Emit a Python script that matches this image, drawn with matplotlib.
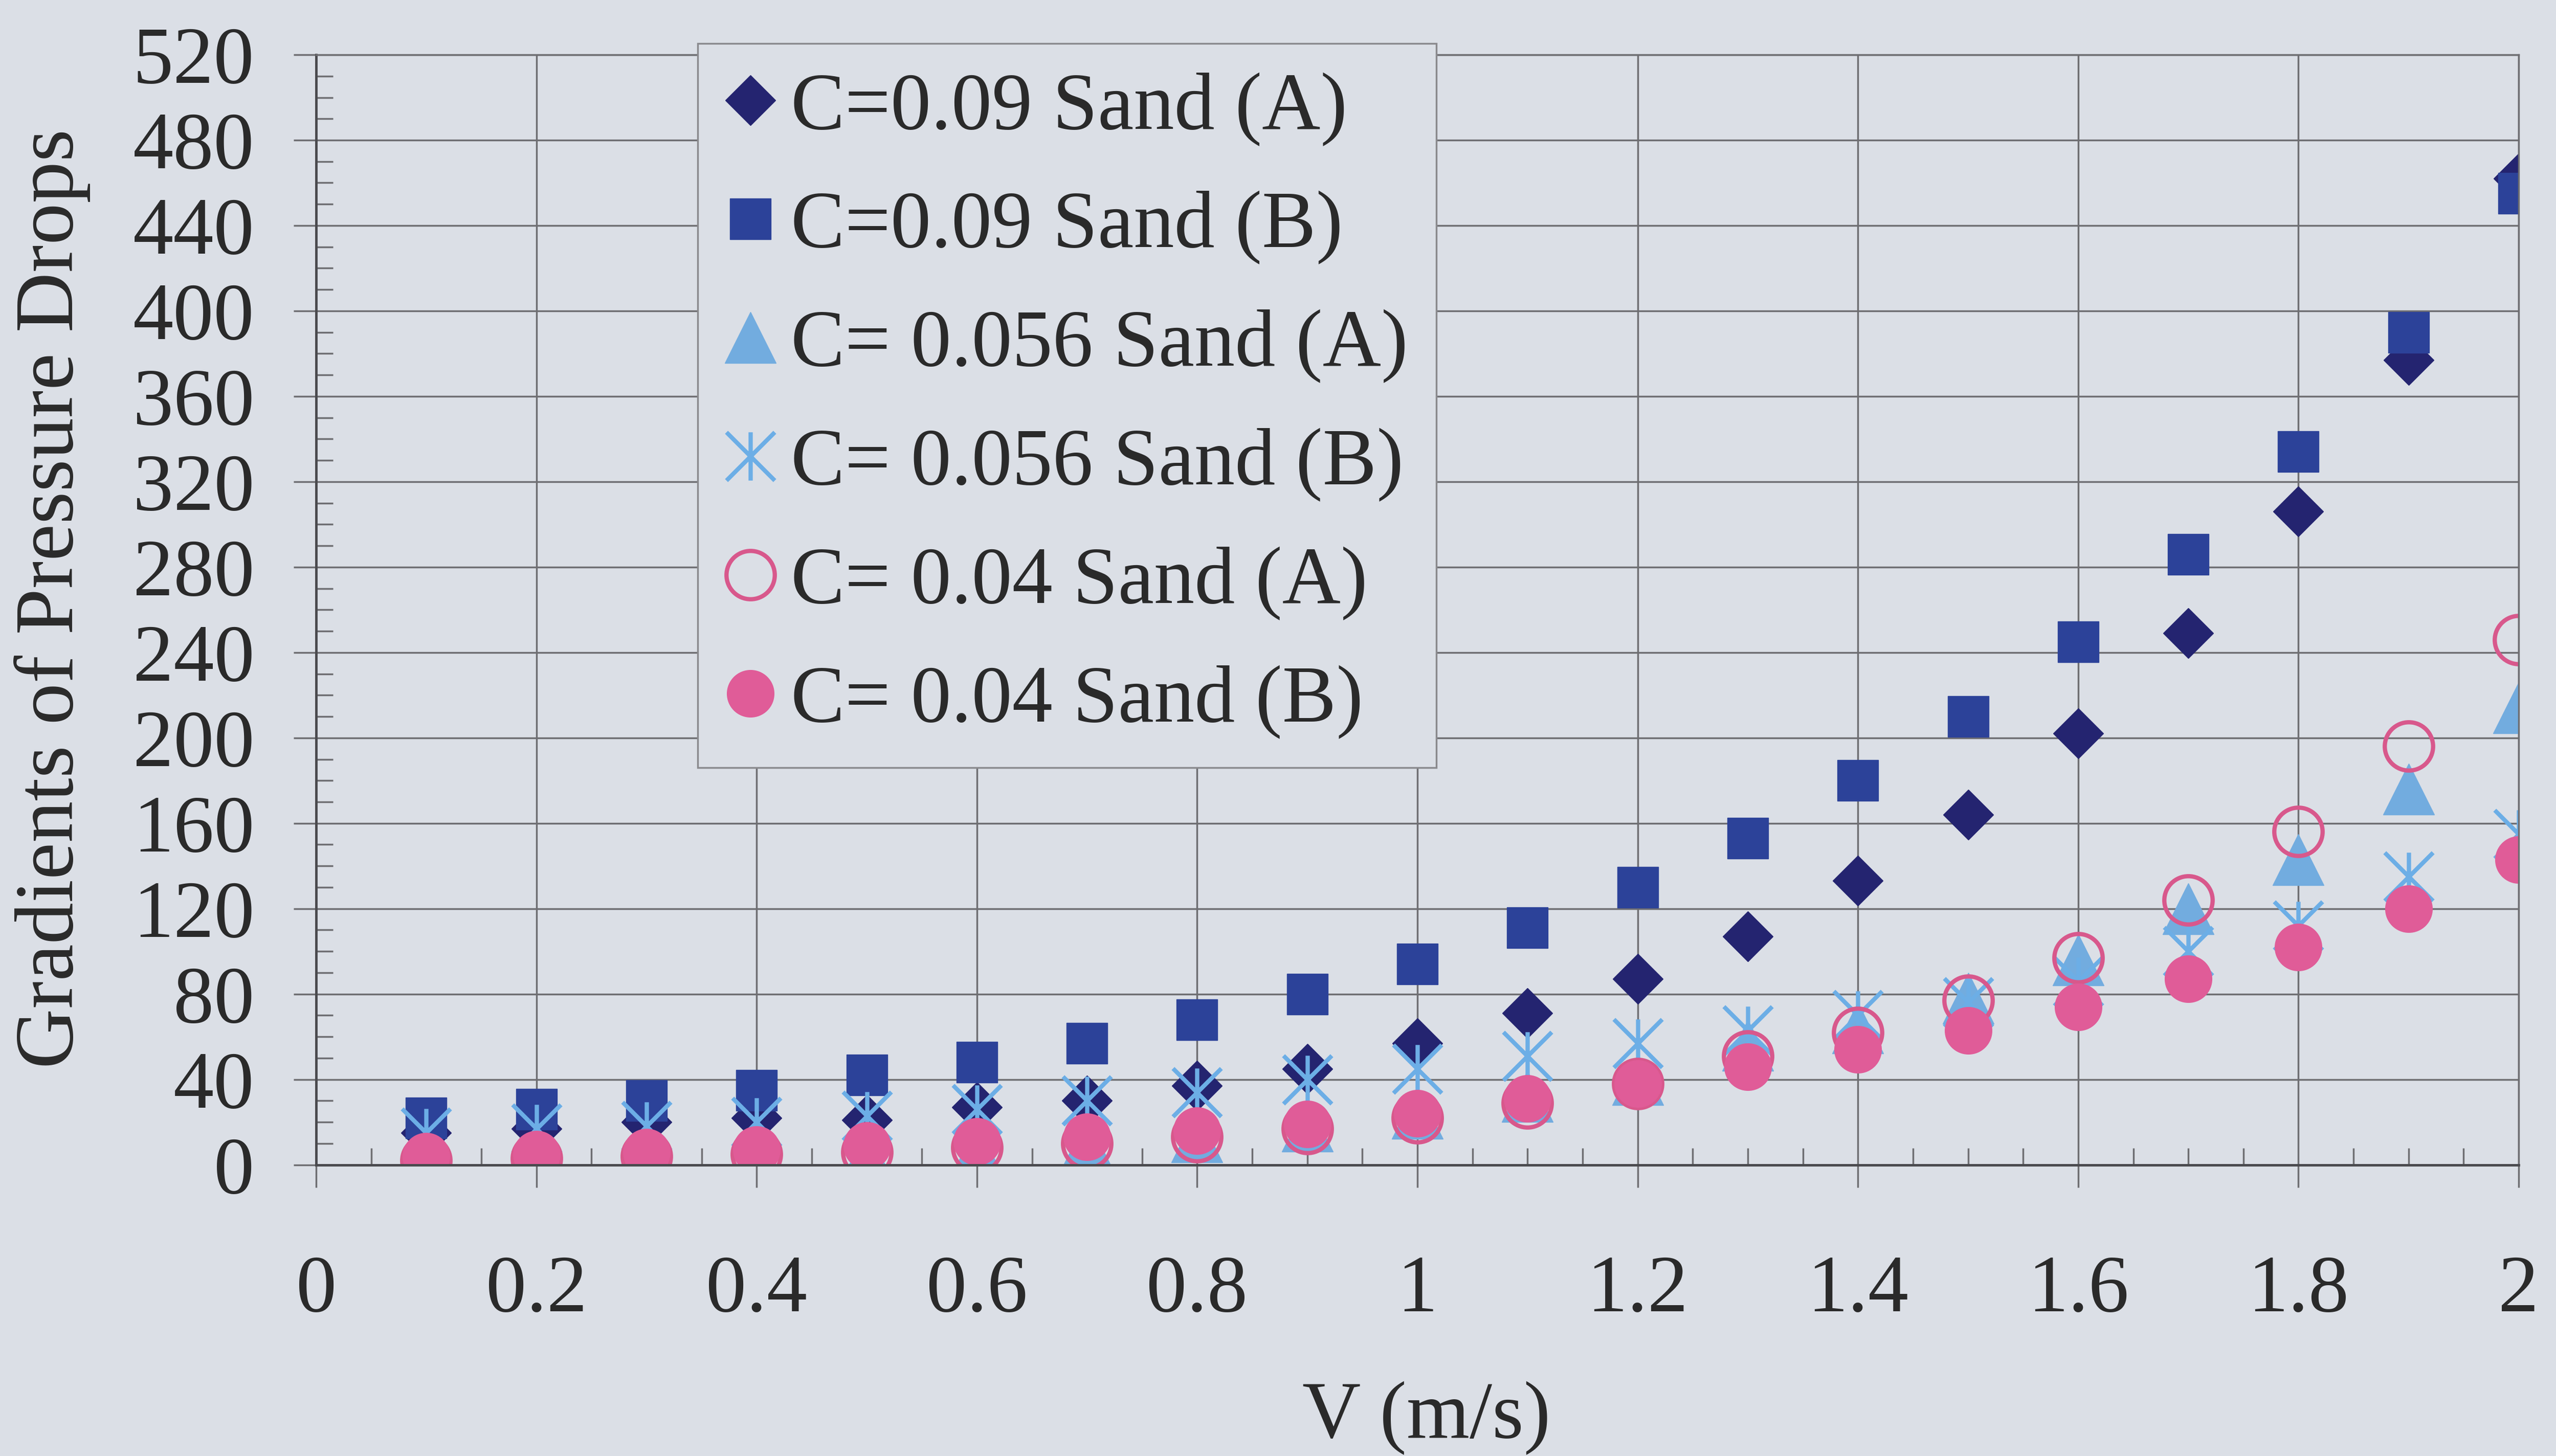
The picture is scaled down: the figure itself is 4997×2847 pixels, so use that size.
import numpy as np
import matplotlib.pyplot as plt
from matplotlib.path import Path
from matplotlib.ticker import MultipleLocator

plt.rcParams['font.family'] = ['Liberation Serif', 'DejaVu Serif']

v = [0.1, 0.2, 0.3, 0.4, 0.5, 0.6, 0.7, 0.8, 0.9, 1.0,
     1.1, 1.2, 1.3, 1.4, 1.5, 1.6, 1.7, 1.8, 1.9, 2.0]

c09_a = [15, 17, 20, 22, 21, 27, 30, 37, 45, 57,
         71, 87, 107, 133, 164, 202, 249, 306, 377, 462]
c09_b = [22, 26, 30, 35, 42, 48, 57, 68, 80, 94,
         111, 130, 153, 180, 210, 245, 286, 334, 390, 455]
c056_a = [1, 2, 3, 4, 5, 7, 10, 13, 18, 24,
          32, 40, 56, 64, 78, 96, 120, 143, 176, 214]
c056_b = [15, 17, 18, 20, 23, 26, 30, 34, 40, 45,
          51, 57, 63, 70, 76, 86, 100, 112, 135, 155]
c04_a = [2, 3, 4, 5, 6, 8, 10, 13, 17, 22,
         29, 38, 51, 62, 77, 97, 124, 156, 196, 246]
c04_b = [4, 5, 6, 7, 9, 11, 13, 16, 19, 24,
         31, 38, 46, 54, 63, 74, 87, 102, 120, 143]

labels = ['C=0.09 Sand (A)', 'C=0.09 Sand (B)', 'C= 0.056 Sand (A)',
          'C= 0.056 Sand (B)', 'C= 0.04 Sand (A)', 'C= 0.04 Sand (B)']
xlabels = ['0', '0.2', '0.4', '0.6', '0.8', '1', '1.2', '1.4', '1.6', '1.8', '2']

bg = '#dbdfe6'
ink = '#2a2a2a'
grid_c = '#6e6e72'

# excel style asterisk: vertical bar plus an X
star = Path([(0, -1), (0, 1), (-1, -1), (1, 1), (-1, 1), (1, -1)],
            [Path.MOVETO, Path.LINETO, Path.MOVETO, Path.LINETO, Path.MOVETO, Path.LINETO])

fig = plt.figure(figsize=(49.97, 28.47), dpi=100, facecolor=bg)
ax = fig.add_axes([0.1237, 0.200, 0.8617, 0.7624], facecolor=bg)

ax.plot(v, c09_a, ls='none', marker='D', ms=50, color='#242470', mec='#242470', label=labels[0])
ax.plot(v, c09_b, ls='none', marker='s', ms=58, color='#2c4299', mec='#2c4299', label=labels[1])
ax.plot(v, c056_a, ls='none', marker='^', ms=72, color='#72acdf', mec='#72acdf', label=labels[2])
ax.plot(v, c056_b, ls='none', marker=star, ms=68, mew=6, color='#6caee6', label=labels[3])
ax.plot(v, c04_a, ls='none', marker='o', ms=68, mfc='none', mew=6, mec='#d8588c', label=labels[4])
ax.plot(v, c04_b, ls='none', marker='o', ms=66, color='#e05c98', mec='#e05c98', label=labels[5])

ax.set_xlim(0, 2)
ax.set_ylim(0, 520)
ax.set_xticks(np.arange(0, 2.01, 0.2))
ax.set_xticklabels(xlabels)
ax.xaxis.set_minor_locator(MultipleLocator(0.05))
ax.yaxis.set_major_locator(MultipleLocator(40))
ax.yaxis.set_minor_locator(MultipleLocator(10))

ax.grid(True, which='major', color=grid_c, lw=2.5)
ax.set_axisbelow(True)
ax.tick_params(which='major', direction='out', length=32, width=2.5, color=grid_c,
               labelsize=114, labelcolor=ink)
ax.tick_params(axis='x', which='major', pad=95)
ax.tick_params(axis='y', which='major', pad=55)
ax.tick_params(which='minor', direction='in', length=24, width=2.5, color=grid_c)

for side in ['left', 'bottom']:
    ax.spines[side].set_color('#4a4a4e')
    ax.spines[side].set_linewidth(3.5)
for side in ['top', 'right']:
    ax.spines[side].set_color(grid_c)
    ax.spines[side].set_linewidth(2.5)

fig.text(0.0204, 0.589, 'Gradients of Pressure Drops', rotation=90, ha='center', va='center',
         fontsize=117, color=ink)
fig.text(0.558, 0.026, 'V (m/s)', ha='center', va='center', fontsize=114, color=ink)

leg = fig.legend(loc='upper left', bbox_to_anchor=(0.273, 0.970), fontsize=114,
                 frameon=True, fancybox=False, facecolor=bg, edgecolor='#8a8a8e',
                 handlelength=0.6, handletextpad=0.2, labelspacing=0.55,
                 borderpad=0.35, borderaxespad=0, markerscale=1.0)
leg.get_frame().set_linewidth(2.5)
leg.get_frame().set_alpha(1)
for t in leg.get_texts():
    t.set_color(ink)

fig.savefig('out.png', dpi=100, facecolor=bg)
